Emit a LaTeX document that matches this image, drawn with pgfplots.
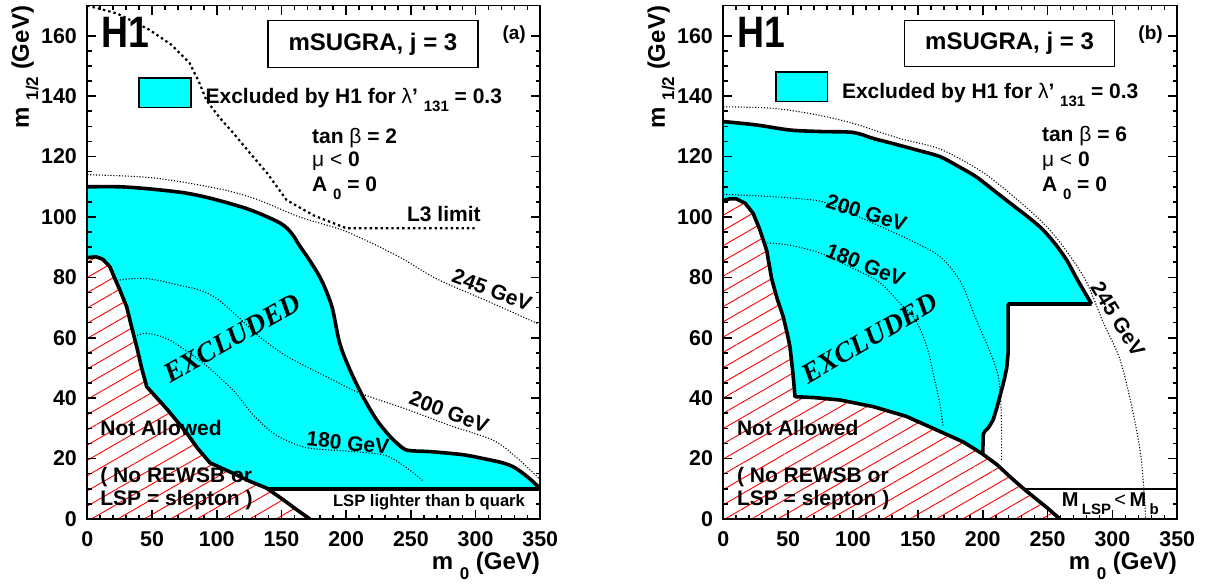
\documentclass[border=0pt]{standalone}
\usepackage{fontspec}
\setmainfont{Liberation Sans}
\newfontfamily\serifbf{Liberation Serif}
\usepackage{pgfplots}
\pgfplotsset{compat=1.18}
\usetikzlibrary{patterns.meta}
\definecolor{cyanfill}{RGB}{0,255,255}
\newcommand\fs[1]{\fontsize{#1}{#1}\selectfont}
\newcommand\sub[2][7.5]{\raisebox{-0.38em}{\fs{#1}#2}}
\tikzset{lbl/.style={font=\bfseries\fs{10.5}, inner sep=0pt}}
\pgfplotsset{
 mystyle/.style={
  scale only axis, width=226.5pt, height=256.7pt,
  xmin=0,xmax=350,ymin=0,ymax=170,
  xtick={0,50,...,350}, ytick={0,20,...,160},
  minor x tick num=4, minor y tick num=3,
  tick align=inside, major tick length=4.5pt, minor tick length=2.2pt,
  every tick/.style={black, line width=0.8pt},
  axis line style={line width=0.9pt},
  axis on top,
  ticklabel style={font=\bfseries\fs{10.7}},
  /pgf/number format/assume math mode=true,
  yticklabel style={anchor=east, inner sep=0pt, xshift=-5pt},
  xticklabel style={anchor=north, inner sep=0pt, yshift=-6.3pt},
  xlabel style={at={(rel axis cs:1,0)}, anchor=base east, yshift=-25.5pt, inner sep=0pt},
  ylabel style={at={([xshift=-29.2pt]rel axis cs:0,1)}, anchor=base east, inner sep=0pt},
  xlabel={\bfseries\fs{12}m \sub[8.5]{0} (GeV)},
  ylabel={\bfseries\fs{12}m \sub[8.5]{1/2} (GeV)},
 },
 thin dot/.style={black, line width=0.55pt, dash pattern=on 0.55pt off 0.9pt, smooth},
 thick bd/.style={black, line width=1.8pt, line join=round},
 hatch/.style={draw=none, pattern={Lines[angle=30,distance=6.6pt,line width=0.45pt]}, pattern color=red},
}
\begin{document}
\begin{tikzpicture}
\useasboundingbox (-43.65pt,-34pt) rectangle (558.85pt,259.5pt);
% ================= (a) =================
\begin{axis}[mystyle, at={(0pt,0pt)}, anchor=south west]
\addplot[fill=cyanfill, draw=none] coordinates {
(0,110) (25,110) (48,109.3) (75,108) (97,106) (125,102.5) (149,98) (158,94.5) (164,90.5) (172,85.5) (181,79) (189,70.3) (195,58.2) (203,49.3) (213,40.5) (223.6,32.8) (234,27.3) (244,23.4) (250,22.6) (265,22.3) (290,21.3) (306,20) (320,18.7) (329,17.3) (337,15) (344,12.5) (350,10)
(138.6,10) (125,12.6) (112.8,15.1) (94.8,18.6) (85,23.5) (76.8,28.5) (61.3,36.5) (45.9,43.8) (42,50) (38.2,57) (34,64) (30.4,70.3) (25,76) (21.4,79.5) (17.5,83.5) (12,86) (7,86.8) (3,86.7) (0,86.5)} -- cycle;
\addplot[hatch] coordinates {
(0,0) (0,86.5) (3,86.7) (7,86.8) (12,86) (17.5,83.5) (21.4,79.5) (25,76) (30.4,70.3) (34,64) (38.2,57) (42,50) (45.9,43.8) (61.3,36.5) (76.8,28.5) (85,23.5) (94.8,18.6) (112.8,15.1) (125,12.6) (138.6,10.2) (150,6.8) (164,2.4) (172,0)} -- cycle;
% contours
\addplot[thin dot] coordinates {(0,114) (50,113) (100,109.5) (130,106) (164,100) (200,95.2) (240,87) (270,79.5) (310,72) (350,64.3)};
\addplot[thin dot] coordinates {(23,79) (30,79.4) (43,79.7) (55,79) (70,77.5) (87,75.8) (100,73) (115,67.5) (133,60.4) (150,55) (164,51.6) (190,46) (211,41.6) (249,36) (280,31) (313,26.2) (330,21) (350,13)};
\addplot[thin dot] coordinates {(36.5,60.5) (46,61.5) (60,60) (72,57) (90,51.5) (113,42.5) (126,35.5) (139,30) (150,26.8) (169.5,23.6) (200,22.5) (229,21.2) (245,17.5) (260,12.4)};
% L3 limit
\addplot[black, line width=1.1pt, dash pattern=on 1.2pt off 1.5pt] coordinates {(0,170) (23,167.4) (48,162) (65,157) (79,151) (86,145) (92,138.7) (102,133) (113,127.7) (126,121) (139,114.5) (154,105.6) (175,100.5) (200,96.3) (301,96.3)};
% boundaries
\addplot[thick bd, smooth] coordinates {(0,110) (25,110) (48,109.3) (75,108) (97,106) (125,102.5) (149,98) (158,94.5) (164,90.5) (172,85.5) (181,79) (189,70.3) (195,58.2) (203,49.3) (213,40.5) (223.6,32.8) (234,27.3) (244,23.4) (250,22.6) (265,22.3) (290,21.3) (306,20) (320,18.7) (329,17.3) (337,15) (344,12.5) (350,10)};
\addplot[thick bd] coordinates {(350,10) (138.6,10)};
\addplot[thick bd] coordinates {(0,86.5) (3,86.7) (7,86.8) (12,86) (17.5,83.5) (21.4,79.5) (25,76) (30.4,70.3) (34,64) (38.2,57) (42,50) (45.9,43.8) (61.3,36.5) (76.8,28.5) (85,23.5) (94.8,18.6) (112.8,15.1) (125,12.6) (138.6,10.2) (150,6.8) (164,2.4) (172,0)};
% legend symbol
\addplot[fill=cyanfill, draw=black, line width=0.8pt] coordinates {(40,136.2) (80.1,136.2) (80.1,146.1) (40,146.1)} -- cycle;
% texts
\node[font=\bfseries\fs{22}, inner sep=0pt] at (axis cs:29.1,161.1) {\scalebox{0.85}[1]{H1}};
\node[draw, line width=0.8pt, minimum width=105pt, minimum height=23.5pt, font=\bfseries\fs{12}] at (axis cs:220.7,157.3) {mSUGRA, j = 3};
\node[font=\bfseries\fs{9.5}, inner sep=0pt] at (axis cs:329.8,160.3) {(a)};
\node[lbl, anchor=base west] at (axis cs:91.1,137.6) {Excluded by H1 for {\mdseries λ}’ \sub{131} = 0.3};
\node[lbl, anchor=base west] at (axis cs:173.4,124.4) {tan {\mdseries β} = 2};
\node[lbl, anchor=base west] at (axis cs:173.4,116.7) {{\mdseries μ <} 0};
\node[lbl, anchor=base west] at (axis cs:173.4,108.4) {A \sub{0} = 0};
\node[lbl, anchor=base west] at (axis cs:246.8,98.4) {L3 limit};
\node[lbl, rotate=-21] at (axis cs:312.7,75.8) {245 GeV};
\node[lbl, rotate=-21] at (axis cs:279.5,35.4) {200 GeV};
\node[lbl, rotate=-6] at (axis cs:201.4,25.2) {180 GeV};
\node[font=\serifbf\bfseries\itshape\fs{14}, rotate=29.5, inner sep=0pt] at (axis cs:111.9,59.9) {EXCLUDED};
\node[lbl, anchor=base west] at (axis cs:9.8,27.5) {Not Allowed};
\node[lbl, anchor=base west] at (axis cs:9.8,12.0) {( No REWSB or};
\node[lbl, anchor=base west] at (axis cs:9.8,4.6) {LSP = slepton )};
\node[font=\bfseries\fs{8.3}, inner sep=0pt, anchor=base] at (axis cs:264,4.1) {LSP lighter than b quark};
\end{axis}
% ================= (b) =================
\begin{axis}[mystyle, width=227pt, at={(318pt,0pt)}, anchor=south west]
\addplot[fill=cyanfill, draw=none] coordinates {
(0,131.6) (25,130.5) (51.3,128.8) (75,128.3) (100,128) (115.6,126) (130,124.4) (149,122.2) (167,120) (181,116.8) (195,113.3) (210,108.3) (225,103.3) (237,99.3) (246.6,95.7) (256,91) (264.6,85.8) (272,80) (278,75.5) (283.9,71.2)
(219.6,71.2) (219.6,55) (218.5,50) (216.5,46) (214.5,42.7) (211,37) (208,32.8) (204.5,30.3) (201.5,29) (200.4,28) (200,21.5)
(185,25.5) (167,29) (141,34) (115.6,37.2) (90,39.4) (70,40.2) (55.3,40.5) (53.5,49) (51.4,57) (49.5,61) (46.2,67) (41.5,73) (37.3,79.5) (33.4,89) (28,96) (23,101.2) (17,104.5) (10,106) (5,106) (0,105.5)} -- cycle;
\addplot[hatch] coordinates {
(0,0) (0,105.5) (5,106) (10,106) (17,104.5) (23,101.2) (28,96) (33.4,89) (37.3,79.5) (41.5,73) (46.2,67) (49.5,61) (51.4,57) (53.5,49) (55.3,40.5) (70,40.2) (90,39.4) (115.6,37.2) (141,34) (167,29) (185,25.5) (200,21.5) (211,18) (221,14) (231,10.2) (239,7.4) (250,3.6) (259.5,0)} -- cycle;
% contours
\addplot[thin dot] coordinates {(0,136.5) (38,136) (70,134) (100,131) (136,126) (167,122.5) (200,114.8) (230,104.5) (250,96.5) (265,88.5) (280,78.5) (293,65) (306,52.6) (316,35) (322,20.6) (325,5) (325.5,0)};
\addplot[thin dot] coordinates {(0,107.5) (10,107.3) (38.5,106.7) (77,105) (110,99) (143.8,92.4) (167,86.9) (183,78.5) (195,66) (205,56) (211,49) (213.5,42) (214.5,30) (214.5,19.5)};
\addplot[thin dot] coordinates {(31.5,91.5) (51,90.7) (75,88) (100,83) (120,78.5) (135,72) (148,66) (157,57) (163,46) (167,38) (169.5,30.6)};
% boundaries
\addplot[thick bd, smooth] coordinates {(0,131.6) (25,130.5) (51.3,128.8) (75,128.3) (100,128) (115.6,126) (130,124.4) (149,122.2) (167,120) (181,116.8) (195,113.3) (210,108.3) (225,103.3) (237,99.3) (246.6,95.7) (256,91) (264.6,85.8) (272,80) (278,75.5) (283.9,71.2)};
\addplot[thick bd] coordinates {(283.9,71.2) (219.6,71.2) (219.6,55) (218.5,50) (216.5,46) (214.5,42.7) (211,37) (208,32.8) (204.5,30.3) (201.5,29) (200.4,28) (200,21.5)};
\addplot[thick bd] coordinates {(0,105.5) (5,106) (10,106) (17,104.5) (23,101.2) (28,96) (33.4,89) (37.3,79.5) (41.5,73) (46.2,67) (49.5,61) (51.4,57) (53.5,49) (55.3,40.5) (70,40.2) (90,39.4) (115.6,37.2) (141,34) (167,29) (185,25.5) (200,21.5) (211,18) (221,14) (231,10.2) (239,7.4) (250,3.6) (259.5,0)};
\addplot[black, line width=0.8pt] coordinates {(231.5,10) (350,10)};
% legend symbol
\addplot[fill=cyanfill, draw=black, line width=0.8pt] coordinates {(40.6,138.2) (80.4,138.2) (80.4,148.1) (40.6,148.1)} -- cycle;
% texts
\node[font=\bfseries\fs{22}, inner sep=0pt] at (axis cs:29.4,161.1) {\scalebox{0.85}[1]{H1}};
\node[draw, line width=0.8pt, minimum width=105pt, minimum height=23pt, font=\bfseries\fs{12}] at (axis cs:220.7,157.4) {mSUGRA, j = 3};
\node[font=\bfseries\fs{9.5}, inner sep=0pt] at (axis cs:329.4,160.3) {(b)};
\node[lbl, anchor=base west] at (axis cs:91.2,139.3) {Excluded by H1 for {\mdseries λ}’ \sub{131} = 0.3};
\node[lbl, anchor=base west] at (axis cs:245.4,124.9) {tan {\mdseries β} = 6};
\node[lbl, anchor=base west] at (axis cs:245.4,116.7) {{\mdseries μ <} 0};
\node[lbl, anchor=base west] at (axis cs:245.4,108.4) {A \sub{0} = 0};
\node[lbl, rotate=-58] at (axis cs:304.2,66.2) {245 GeV};
\node[lbl, rotate=-17] at (axis cs:110.5,101.3) {200 GeV};
\node[lbl, rotate=-22] at (axis cs:109.6,84.1) {180 GeV};
\node[font=\serifbf\bfseries\itshape\fs{14}, rotate=30, inner sep=0pt] at (axis cs:113,59.9) {EXCLUDED};
\node[lbl, anchor=base west] at (axis cs:10.3,27.5) {Not Allowed};
\node[lbl, anchor=base west] at (axis cs:10.3,12.0) {( No REWSB or};
\node[lbl, anchor=base west] at (axis cs:10.3,4.6) {LSP = slepton )};
\node[inner sep=0pt, anchor=base west, font=\bfseries\fs{10}] at (axis cs:260.8,4.1) {M\,\sub[7.5]{LSP}\,{\mdseries <}\,M\,\sub[7.5]{b}};
\end{axis}
\end{tikzpicture}
\end{document}
